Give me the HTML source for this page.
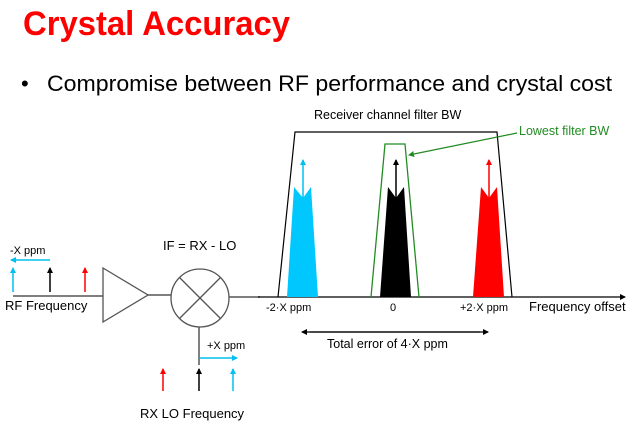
<!DOCTYPE html>
<html><head><style>body{margin:0;background:#fff}svg{display:block}</style></head><body>
<svg width="640" height="426" xmlns="http://www.w3.org/2000/svg" font-family="Liberation Sans, Arial, sans-serif">
<defs>
<marker id="ak" markerWidth="6" markerHeight="6" refX="5" refY="3" orient="auto" markerUnits="userSpaceOnUse"><path d="M0,0 L6,3 L0,6z" fill="#000"/></marker>
<marker id="ac" markerWidth="6" markerHeight="6" refX="5" refY="3" orient="auto" markerUnits="userSpaceOnUse"><path d="M0,0 L6,3 L0,6z" fill="#00c0f0"/></marker>
<marker id="ar" markerWidth="6" markerHeight="6" refX="5" refY="3" orient="auto" markerUnits="userSpaceOnUse"><path d="M0,0 L6,3 L0,6z" fill="#f00"/></marker>
<marker id="ag" markerWidth="6" markerHeight="6" refX="5" refY="3" orient="auto" markerUnits="userSpaceOnUse"><path d="M0,0 L6,3 L0,6z" fill="#228b22"/></marker>
</defs>
<text x="23" y="35" font-size="34" font-weight="bold" fill="#f00" textLength="267" lengthAdjust="spacingAndGlyphs">Crystal Accuracy</text>
<text x="21" y="91" font-size="22" fill="#000">•</text>
<text x="47" y="91" font-size="22.5" fill="#000" textLength="565" lengthAdjust="spacingAndGlyphs">Compromise between RF performance and crystal cost</text>

<!-- left RF -->
<line x1="13" y1="296" x2="103" y2="296" stroke="#555" stroke-width="1.5"/>
<line x1="13" y1="292" x2="13" y2="268" stroke="#00c0f0" stroke-width="1.5" marker-end="url(#ac)"/>
<line x1="50" y1="292" x2="50" y2="268" stroke="#000" stroke-width="1.5" marker-end="url(#ak)"/>
<line x1="85" y1="292" x2="85" y2="268" stroke="#f00" stroke-width="1.5" marker-end="url(#ar)"/>
<line x1="50" y1="260" x2="11" y2="260" stroke="#00c0f0" stroke-width="1.5" marker-end="url(#ac)"/>
<text x="10" y="254" font-size="11">-X ppm</text>
<text x="5" y="310" font-size="13">RF Frequency</text>
<path d="M103,268 L148,295 L103,322 Z" fill="none" stroke="#555" stroke-width="1.3"/>
<line x1="148" y1="295" x2="171" y2="295" stroke="#555" stroke-width="1.5"/>
<circle cx="200" cy="298" r="29" fill="none" stroke="#555" stroke-width="1.3"/>
<line x1="179.5" y1="277.5" x2="220.5" y2="318.5" stroke="#555" stroke-width="1.3"/>
<line x1="220.5" y1="277.5" x2="179.5" y2="318.5" stroke="#555" stroke-width="1.3"/>
<line x1="229" y1="297" x2="260" y2="297" stroke="#555" stroke-width="1.5"/>
<text x="163" y="250" font-size="13">IF = RX - LO</text>
<line x1="199" y1="327" x2="199" y2="365" stroke="#555" stroke-width="1.5"/>
<line x1="200" y1="358" x2="237" y2="358" stroke="#00c0f0" stroke-width="1.5" marker-end="url(#ac)"/>
<text x="207" y="349" font-size="11">+X ppm</text>
<line x1="163" y1="391" x2="163" y2="369" stroke="#f00" stroke-width="1.5" marker-end="url(#ar)"/>
<line x1="199" y1="391" x2="199" y2="369" stroke="#000" stroke-width="1.5" marker-end="url(#ak)"/>
<line x1="233" y1="391" x2="233" y2="369" stroke="#00c0f0" stroke-width="1.5" marker-end="url(#ac)"/>
<text x="140" y="418" font-size="13">RX LO Frequency</text>

<!-- right spectrum -->
<line x1="258" y1="297" x2="625" y2="297" stroke="#000" stroke-width="1.3" marker-end="url(#ak)"/>
<path d="M278,297 L295,132 L497,132 L512,297" fill="none" stroke="#000" stroke-width="1.2"/>
<text x="314" y="119" font-size="12.5">Receiver channel filter BW</text>
<path d="M371,297 L385,144 L405,144 L419,297" fill="none" stroke="#228b22" stroke-width="1.3"/>
<text x="519" y="135" font-size="12.5" fill="#228b22">Lowest filter BW</text>
<line x1="517" y1="133" x2="409" y2="155" stroke="#228b22" stroke-width="1.2" marker-end="url(#ag)"/>
<path d="M287,297 L294,187 L303,198 L311,187 L318,297 Z" fill="#00c8ff"/>
<line x1="303" y1="198" x2="303" y2="160" stroke="#00c0f0" stroke-width="1.5" marker-end="url(#ac)"/>
<path d="M380,297 L388,187 L396,198 L404,187 L411,297 Z" fill="#000"/>
<line x1="396" y1="198" x2="396" y2="160" stroke="#000" stroke-width="1.5" marker-end="url(#ak)"/>
<path d="M473,297 L481,187 L489,198 L497,187 L504,297 Z" fill="#f00"/>
<line x1="489" y1="198" x2="489" y2="160" stroke="#f00" stroke-width="1.5" marker-end="url(#ar)"/>
<text x="266" y="311" font-size="11">-2·X ppm</text>
<text x="390" y="311" font-size="11">0</text>
<text x="460" y="311" font-size="11">+2·X ppm</text>
<text x="529" y="311" font-size="13">Frequency offset</text>
<line x1="310" y1="332" x2="488" y2="332" stroke="#000" stroke-width="1.2" marker-end="url(#ak)"/>
<line x1="480" y1="332" x2="302" y2="332" stroke="#000" stroke-width="1.2" marker-end="url(#ak)"/>
<text x="327" y="348" font-size="12.5">Total error of 4·X ppm</text>
</svg>
</body></html>
